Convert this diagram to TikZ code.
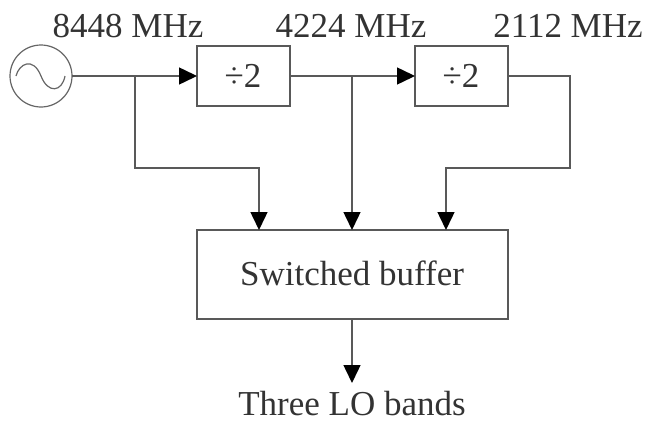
\documentclass[tikz,border=0pt]{standalone}
\usepackage{fontspec}
\setmainfont{Liberation Serif}
\usetikzlibrary{arrows.meta}
\tikzset{
    wire/.style={draw=black!65,line width=1.5pt},
    sig/.style={wire,-{Triangle[length=18pt,width=17pt,color=black]}},
    blockbox/.style={wire,outer sep=0pt,inner sep=0pt},
    lbl/.style={font=\fontsize{35}{40}\selectfont,text=black!80,anchor=base,inner sep=0pt}
}
\begin{document}
\begin{tikzpicture}[x=1pt,y=-1pt]
    \useasboundingbox (0,0) rectangle (646,423);
    % source
    \node[wire,draw=black!60,line width=1.2pt,circle,minimum size=62pt,inner sep=0pt,outer sep=0pt] (osc) at (41,76) {};
    \draw[wire,draw=black!60,line width=1.2pt] (16,76) .. controls (19,64) and (33,56) .. (41,76) .. controls (48,94) and (62,92) .. (65,76);
    % dividers
    \node[blockbox,minimum width=93pt,minimum height=60pt] (divA) at (243.5,76) {};
    \node[blockbox,minimum width=93pt,minimum height=60pt] (divB) at (461.5,76) {};
    \node[blockbox,minimum width=311pt,minimum height=89pt] (buf) at (352.5,274.5) {};
    % labels
    \node[lbl] (txtA) at (243,87) {÷2};
    \node[lbl] (txtB) at (461,87) {÷2};
    \node[lbl] (txtC) at (352,285) {Switched buffer};
    \node[lbl] (fA) at (128,37) {8448 MHz};
    \node[lbl] (fB) at (351,37) {4224 MHz};
    \node[lbl] (fC) at (568,37) {2112 MHz};
    \node[lbl] (out) at (352,415) {Three LO bands};
    % connectors
    \coordinate (tapA) at (135,76);
    \coordinate (tapB) at (352,76);
    \coordinate (endC) at (570,76);
    \coordinate (inA) at (259,230);
    \coordinate (inC) at (446,230);
    \coordinate (outEnd) at (352,383);
    \draw[sig] (osc.east) -- (divA.west);
    \draw[sig] (divA.east) -- (divB.west);
    \draw[sig] (tapA) -- (135,168) -- (259,168) -- (inA);
    \draw[sig] (tapB) -- (tapB|-buf.north);
    \draw[sig] (divB.east) -- (endC) -- (570,168) -- (446,168) -- (inC);
    \draw[sig] (outEnd|-buf.south) -- (outEnd);
\end{tikzpicture}
\end{document}
